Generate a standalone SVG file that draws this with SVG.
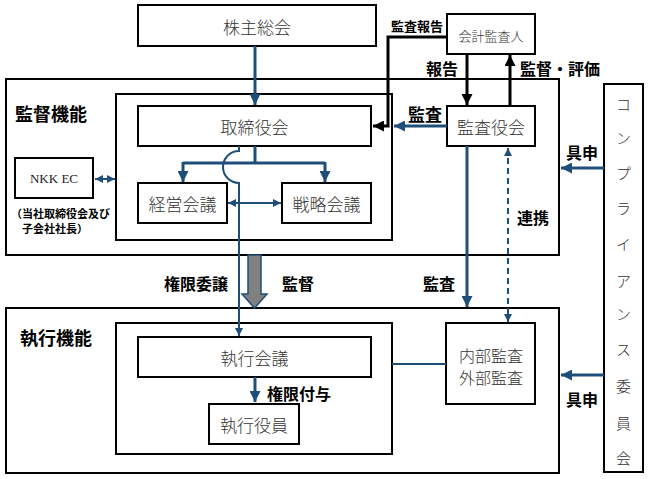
<svg xmlns="http://www.w3.org/2000/svg" width="648" height="479" viewBox="0 0 648 479">
<style>
.box{fill:#fff;stroke:#000;stroke-width:2}
.frame{fill:none;stroke:#000;stroke-width:2}
.bt{font-family:"Noto Sans CJK JP","Noto Sans",sans-serif;font-weight:300;font-size:17px;fill:#333;text-anchor:middle;dominant-baseline:central}
.lb{font-family:"Noto Sans CJK JP","Noto Sans",sans-serif;font-weight:700;font-size:16px;fill:#000;dominant-baseline:central}
.bl{fill:none;stroke:#1F4E79;stroke-width:3}
.bl2{fill:none;stroke:#1F4E79;stroke-width:2}
.bk{fill:none;stroke:#000;stroke-width:3}
</style>
<defs>
<marker id="ab" viewBox="0 0 10 10" refX="10" refY="5" markerUnits="userSpaceOnUse" markerWidth="11" markerHeight="11" orient="auto-start-reverse"><path d="M0,0 L10,5 L0,10 z" fill="#1F4E79"/></marker>
<marker id="as" viewBox="0 0 10 10" refX="10" refY="5" markerUnits="userSpaceOnUse" markerWidth="8" markerHeight="8" orient="auto-start-reverse"><path d="M0,0 L10,5 L0,10 z" fill="#1F4E79"/></marker>
<marker id="ak" viewBox="0 0 10 10" refX="10" refY="5" markerUnits="userSpaceOnUse" markerWidth="11" markerHeight="11" orient="auto-start-reverse"><path d="M0,0 L10,5 L0,10 z" fill="#000"/></marker>
</defs>

<g id="frame-kantoku">
<rect class="frame" x="6" y="79" width="553" height="176"/>
<rect class="frame" x="116" y="94" width="276" height="146"/>
<text class="lb" x="15" y="113" style="font-size:18px">監督機能</text>
</g>
<g id="frame-shikko">
<rect class="frame" x="6" y="308" width="553" height="165"/>
<rect class="frame" x="116" y="323" width="276" height="131"/>
<text class="lb" x="20" y="337" style="font-size:18px">執行機能</text>
</g>

<g id="n-kabunushi"><rect class="box" x="138" y="5" width="238" height="41"/><text class="bt" x="257" y="26">株主総会</text></g>
<g id="n-torishimariyaku"><rect class="box" x="138" y="106" width="233" height="40"/><text class="bt" x="254.5" y="126">取締役会</text></g>
<g id="n-keiei"><rect class="box" x="138" y="183" width="89" height="40"/><text class="bt" x="182.5" y="203">経営会議</text></g>
<g id="n-senryaku"><rect class="box" x="282" y="183" width="89" height="40"/><text class="bt" x="326.5" y="203">戦略会議</text></g>
<g id="n-nkkec"><rect class="box" x="15" y="158" width="78" height="40"/><text x="54" y="178" style="font-family:'Liberation Serif',serif;font-size:13px;fill:#222;text-anchor:middle;dominant-baseline:central">NKK EC</text>
<text class="lb" x="11" y="213" style="font-size:11px">（当社取締役会及び</text>
<text class="lb" x="22" y="228" style="font-size:11px">子会社社長）</text></g>
<g id="n-kaikei"><rect class="box" x="447" y="14" width="88" height="40"/><text class="bt" x="491" y="35" style="font-size:13px">会計監査人</text></g>
<g id="n-kansayaku"><rect class="box" x="447" y="106" width="88" height="40"/><text class="bt" x="491" y="126">監査役会</text></g>
<g id="n-shikkokaigi"><rect class="box" x="138" y="337" width="233" height="40"/><text class="bt" x="254.5" y="357">執行会議</text></g>
<g id="n-shikkoyakuin"><rect class="box" x="209" y="404" width="90" height="40"/><text class="bt" x="254" y="424">執行役員</text></g>
<g id="n-naibu"><rect class="box" x="446" y="323" width="89" height="81"/><text class="bt" x="491" y="355" style="font-size:16px">内部監査</text><text class="bt" x="491" y="377" style="font-size:16px">外部監査</text></g>
<g id="n-compliance"><rect class="box" x="604" y="84" width="39" height="388"/>
<g class="bt" style="font-size:15px">
<text x="623.5" y="103">コ</text><text x="623.5" y="137">ン</text><text x="623.5" y="172">プ</text><text x="623.5" y="207">ラ</text><text x="623.5" y="243">イ</text><text x="623.5" y="280">ア</text><text x="623.5" y="313">ン</text><text x="623.5" y="348">ス</text><text x="623.5" y="385">委</text><text x="623.5" y="422">員</text><text x="623.5" y="457">会</text>
</g></g>

<g id="connectors">
<path class="bl" d="M255,46 V105" marker-end="url(#ab)"/>
<path class="bl" d="M255,146 V163 M183,163 H325"/>
<path class="bl" d="M183,162 V182" marker-end="url(#ab)"/>
<path class="bl" d="M325,162 V182" marker-end="url(#ab)"/>
<path class="bl2" d="M239,146 V151 A16 16 0 0 0 239,183 V336" marker-end="url(#as)"/>
<path class="bl2" d="M95,179 H115" marker-start="url(#as)" marker-end="url(#as)"/>
<path class="bl2" d="M228,203 H281" marker-start="url(#as)" marker-end="url(#as)"/>
<path class="bl" d="M255,377 V402" marker-end="url(#ab)"/>
<path class="bl2" d="M392,364 H446"/>
<path class="bk" d="M447,37 H388 V126 H373" marker-end="url(#ak)"/>
<path class="bk" d="M467,54 V105" marker-end="url(#ak)"/>
<path class="bk" d="M510,106 V55" marker-end="url(#ak)"/>
<path class="bl" d="M447,126 H394" marker-end="url(#ab)"/>
<path class="bl" d="M467,146 V307" marker-end="url(#ab)"/>
<path class="bl2" d="M508,148 V322" stroke-dasharray="6,4" marker-start="url(#as)" marker-end="url(#as)"/>
<path class="bl" d="M604,168 H561" marker-end="url(#ab)"/>
<path class="bl" d="M604,375 H561" marker-end="url(#ab)"/>
<polygon points="248,255 261,255 261,294 267,294 254.5,308 242,294 248,294" fill="#808080" stroke="#1F4E79" stroke-width="1.5"/>
</g>

<g id="labels">
<text class="lb" x="417" y="25" style="font-size:13px;text-anchor:middle">監査報告</text>
<text class="lb" x="442" y="68" style="text-anchor:middle">報告</text>
<text class="lb" x="520" y="68">監督・評価</text>
<text class="lb" x="425" y="113" style="font-size:17px;text-anchor:middle">監査</text>
<text class="lb" x="582" y="152" style="text-anchor:middle">具申</text>
<text class="lb" x="533" y="217" style="text-anchor:middle">連携</text>
<text class="lb" x="196" y="283" style="text-anchor:middle">権限委譲</text>
<text class="lb" x="298" y="283" style="text-anchor:middle">監督</text>
<text class="lb" x="439" y="283" style="text-anchor:middle">監査</text>
<text class="lb" x="267" y="393">権限付与</text>
<text class="lb" x="582" y="399" style="text-anchor:middle">具申</text>
</g>
</svg>
